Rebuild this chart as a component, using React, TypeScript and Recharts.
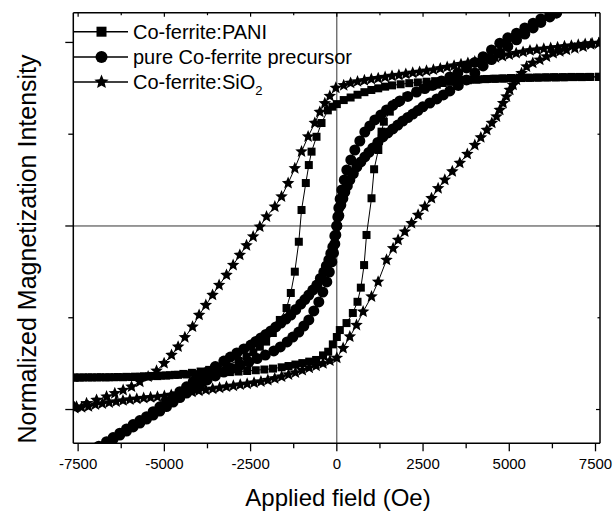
import React from 'react';
import { LineChart, Line, XAxis, YAxis, ReferenceLine } from 'recharts';

// ---------- axis ticks ----------
const xTickValues = [-7500, -6250, -5000, -3750, -2500, -1250, 0, 1250, 2500, 3750, 5000, 6250, 7500];
const yTickValues = [-1, -0.5, 0, 0.5, 1];
const xDomain: [number, number] = [-7640, 7630];
const yDomain: [number, number] = [-1.184, 1.162];

// ---------- legend / titles ----------
const seriesNames = ['Co-ferrite:PANI', 'pure Co-ferrite precursor', 'Co-ferrite:SiO'];
const xTitle = 'Applied field (Oe)';
const yTitle = 'Normalized Magnetization Intensity';

// ---------- data: [field (Oe), normalized magnetization] ----------
const paniDescending: [number, number][] = [
  [7600, 0.812], [7350, 0.812], [7100, 0.811], [6850, 0.811], [6600, 0.81], [6350, 0.809], [6100, 0.809],
  [5850, 0.808], [5600, 0.807], [5350, 0.806], [5100, 0.804], [4850, 0.803], [4600, 0.802], [4350, 0.801],
  [4100, 0.799], [3850, 0.797], [3600, 0.796], [3350, 0.793], [3100, 0.791], [2850, 0.789], [2600, 0.786],
  [2350, 0.782], [2100, 0.778], [1850, 0.772], [1600, 0.766], [1400, 0.759], [1200, 0.75], [1000, 0.741],
  [800, 0.729], [600, 0.715], [400, 0.7], [200, 0.686], [0, 0.664], [-130, 0.65], [-261, 0.63],
  [-444, 0.561], [-589, 0.486], [-733, 0.405], [-812, 0.332], [-899, 0.234], [-1023, 0.087], [-1102, -0.086],
  [-1218, -0.249], [-1334, -0.365], [-1458, -0.447], [-1652, -0.512], [-1855, -0.583], [-2050, -0.63],
  [-2232, -0.658], [-2420, -0.688], [-2618, -0.712], [-2850, -0.735], [-3197, -0.757], [-3450, -0.772],
  [-3700, -0.784], [-3950, -0.793], [-4200, -0.8], [-4450, -0.806], [-4700, -0.811], [-4950, -0.815],
  [-5200, -0.818], [-5450, -0.82], [-5700, -0.822], [-5950, -0.823], [-6200, -0.824], [-6450, -0.824],
  [-6700, -0.825], [-6950, -0.825], [-7200, -0.825], [-7450, -0.826], [-7600, -0.826],
];
const paniAscending: [number, number][] = [
  [-7600, -0.826], [-7350, -0.825], [-7100, -0.825], [-6850, -0.824], [-6600, -0.824], [-6350, -0.823],
  [-6100, -0.822], [-5850, -0.821], [-5600, -0.819], [-5350, -0.817], [-5100, -0.815], [-4850, -0.813],
  [-4600, -0.811], [-4350, -0.809], [-4100, -0.807], [-3850, -0.805], [-3600, -0.802], [-3350, -0.799],
  [-3100, -0.796], [-2850, -0.793], [-2600, -0.79], [-2350, -0.786], [-2100, -0.782], [-1850, -0.777],
  [-1600, -0.77], [-1400, -0.763], [-1200, -0.755], [-1000, -0.747], [-800, -0.739], [-600, -0.73],
  [-400, -0.705], [-250, -0.685], [-116, -0.645], [0, -0.605], [87, -0.567], [281, -0.529], [464, -0.474],
  [600, -0.413], [696, -0.336], [791, -0.213], [861, -0.049], [1006, 0.151], [1081, 0.309], [1203, 0.414],
  [1296, 0.514], [1363, 0.568], [1536, 0.623], [1731, 0.67], [2021, 0.705], [2311, 0.732], [2500, 0.747],
  [2696, 0.759], [2900, 0.77], [3073, 0.779], [3300, 0.785], [3550, 0.79], [3800, 0.794], [4050, 0.797],
  [4300, 0.8], [4550, 0.802], [4800, 0.804], [5050, 0.806], [5300, 0.807], [5550, 0.808], [5800, 0.809],
  [6050, 0.81], [6300, 0.811], [6550, 0.811], [6800, 0.812], [7050, 0.812], [7300, 0.812], [7600, 0.813],
];

const pureDescending: [number, number][] = [
  [7600, 1.28], [7300, 1.25], [7000, 1.22], [6700, 1.19], [6369, 1.161], [6175, 1.15], [5914, 1.128],
  [5691, 1.105], [5450, 1.079], [5210, 1.05], [4957, 1.025], [4725, 0.996], [4485, 0.959], [4241, 0.922],
  [4001, 0.891], [3760, 0.861], [3508, 0.834], [3276, 0.812], [3035, 0.79], [2792, 0.768], [2551, 0.749],
  [2311, 0.73], [2058, 0.706], [1826, 0.681], [1623, 0.657], [1441, 0.632], [1276, 0.605], [1102, 0.578],
  [957, 0.545], [812, 0.512], [667, 0.463], [522, 0.414], [406, 0.36], [290, 0.305], [217, 0.251],
  [145, 0.196], [96, 0.147], [58, 0.098], [29, 0.049], [0, 0], [-58, -0.054], [-116, -0.114], [-174, -0.15],
  [-232, -0.185], [-304, -0.218], [-377, -0.251], [-478, -0.286], [-580, -0.322], [-696, -0.349],
  [-812, -0.376], [-928, -0.401], [-1044, -0.425], [-1189, -0.455], [-1334, -0.485], [-1478, -0.507],
  [-1623, -0.529], [-1768, -0.55], [-1913, -0.572], [-2058, -0.591], [-2203, -0.61], [-2348, -0.629],
  [-2493, -0.649], [-2696, -0.67], [-2899, -0.692], [-3088, -0.714], [-3276, -0.736], [-3522, -0.766],
  [-3760, -0.796], [-3972, -0.821], [-4165, -0.849], [-4357, -0.876], [-4551, -0.903], [-4746, -0.93],
  [-4937, -0.957], [-5131, -0.985], [-5325, -1.012], [-5517, -1.039], [-5711, -1.06], [-5905, -1.082],
  [-6097, -1.106], [-6291, -1.129], [-6485, -1.153], [-6676, -1.175], [-6900, -1.2], [-7200, -1.235],
  [-7600, -1.28],
];
const pureAscending: [number, number][] = [
  [-7600, -1.29], [-7200, -1.245], [-6900, -1.21], [-6676, -1.183], [-6485, -1.161], [-6291, -1.139],
  [-6097, -1.117], [-5905, -1.095], [-5711, -1.074], [-5517, -1.052], [-5325, -1.03], [-5131, -1.008],
  [-4937, -0.984], [-4746, -0.959], [-4551, -0.935], [-4357, -0.91], [-4175, -0.888], [-3972, -0.864],
  [-3760, -0.839], [-3522, -0.817], [-3276, -0.796], [-3044, -0.777], [-2792, -0.757], [-2551, -0.741],
  [-2311, -0.722], [-2073, -0.703], [-1826, -0.681], [-1638, -0.659], [-1441, -0.632], [-1276, -0.605],
  [-1102, -0.578], [-957, -0.545], [-812, -0.512], [-667, -0.463], [-522, -0.414], [-406, -0.36],
  [-290, -0.305], [-217, -0.251], [-145, -0.196], [-96, -0.147], [-58, -0.098], [-29, -0.049], [0, 0],
  [58, 0.057], [116, 0.114], [174, 0.15], [232, 0.185], [304, 0.218], [377, 0.251], [478, 0.286],
  [580, 0.322], [696, 0.349], [812, 0.376], [928, 0.401], [1044, 0.425], [1189, 0.455], [1334, 0.485],
  [1478, 0.507], [1623, 0.529], [1768, 0.55], [1913, 0.572], [2058, 0.591], [2203, 0.61], [2348, 0.629],
  [2493, 0.649], [2696, 0.67], [2899, 0.692], [3088, 0.714], [3276, 0.736], [3522, 0.766], [3760, 0.796],
  [4001, 0.834], [4241, 0.872], [4485, 0.907], [4725, 0.943], [4957, 0.978], [5210, 1.014], [5450, 1.046],
  [5691, 1.079], [5914, 1.109], [6175, 1.139], [6369, 1.161], [6700, 1.19], [7000, 1.22], [7300, 1.25],
  [7600, 1.28],
];

const silicaDescending: [number, number][] = [
  [7600, 0.997], [7400, 0.995], [7200, 0.991], [7000, 0.987], [6800, 0.982], [6600, 0.978], [6400, 0.973],
  [6200, 0.969], [6000, 0.965], [5800, 0.96], [5600, 0.956], [5400, 0.948], [5200, 0.941], [5000, 0.933],
  [4800, 0.925], [4600, 0.918], [4400, 0.911], [4200, 0.903], [4000, 0.895], [3800, 0.888], [3600, 0.881],
  [3400, 0.873], [3200, 0.866], [3000, 0.858], [2800, 0.851], [2600, 0.845], [2400, 0.839], [2200, 0.834],
  [2000, 0.828], [1800, 0.822], [1600, 0.817], [1400, 0.811], [1200, 0.805], [1000, 0.8], [800, 0.793],
  [600, 0.787], [400, 0.779], [200, 0.766], [-29, 0.752], [-203, 0.708], [-348, 0.668], [-493, 0.621],
  [-638, 0.561], [-832, 0.487], [-1023, 0.405], [-1218, 0.314], [-1412, 0.233], [-1603, 0.16],
  [-1797, 0.105], [-2038, 0.051], [-2232, -0.004], [-2426, -0.058], [-2618, -0.106], [-2812, -0.158],
  [-3006, -0.213], [-3198, -0.267], [-3412, -0.322], [-3603, -0.376], [-3798, -0.431], [-3992, -0.485],
  [-4183, -0.549], [-4406, -0.607], [-4601, -0.658], [-4792, -0.703], [-5007, -0.748], [-5227, -0.789],
  [-5471, -0.821], [-5711, -0.849], [-5952, -0.876], [-6195, -0.894], [-6436, -0.912], [-6676, -0.93],
  [-6966, -0.948], [-7256, -0.966], [-7546, -0.985], [-7600, -0.988],
];
const silicaAscending: [number, number][] = [
  [-7600, -0.992], [-7400, -0.988], [-7200, -0.983], [-7000, -0.973], [-6800, -0.968], [-6600, -0.962],
  [-6400, -0.957], [-6200, -0.951], [-6000, -0.946], [-5800, -0.942], [-5600, -0.938], [-5400, -0.934],
  [-5200, -0.931], [-5000, -0.927], [-4800, -0.921], [-4600, -0.915], [-4400, -0.909], [-4200, -0.904],
  [-4000, -0.898], [-3800, -0.893], [-3600, -0.887], [-3400, -0.882], [-3200, -0.876], [-3000, -0.871],
  [-2800, -0.865], [-2600, -0.86], [-2400, -0.854], [-2200, -0.848], [-2000, -0.84], [-1800, -0.831],
  [-1600, -0.821], [-1400, -0.81], [-1200, -0.799], [-1000, -0.786], [-800, -0.773], [-600, -0.762],
  [-400, -0.749], [-200, -0.734], [0, -0.719], [183, -0.666], [377, -0.603], [571, -0.54], [762, -0.467],
  [1006, -0.385], [1197, -0.304], [1441, -0.185], [1632, -0.122], [1777, -0.076], [1971, -0.031],
  [2166, 0.015], [2357, 0.06], [2551, 0.105], [2745, 0.151], [2937, 0.205], [3131, 0.251], [3348, 0.297],
  [3566, 0.343], [3783, 0.392], [4001, 0.441], [4175, 0.482], [4349, 0.523], [4494, 0.561], [4630, 0.596],
  [4725, 0.632], [4821, 0.669], [4920, 0.705], [5015, 0.741], [5111, 0.768], [5210, 0.796], [5355, 0.832],
  [5500, 0.868], [5682, 0.888], [5885, 0.905], [6079, 0.923], [6271, 0.941], [6465, 0.951], [6659, 0.959],
  [6900, 0.968], [7140, 0.977], [7363, 0.989], [7595, 0.995],
];

const toRows = (a: [number, number][], b: [number, number][]) => [...a, ...b].map(([x, y]) => ({ x, y }));
const paniData = toRows(paniDescending, paniAscending);
const pureData = toRows(pureDescending, pureAscending);
const silicaData = toRows(silicaDescending, silicaAscending);

const FONT = "Arial, 'Liberation Sans', Helvetica, sans-serif";

const starPath = (cx: number, cy: number, R: number, r: number) => {
  let d = '';
  for (let i = 0; i < 10; i++) {
    const a = (-90 + i * 36) * (Math.PI / 180);
    const rad = i % 2 === 0 ? R : r;
    d += (i === 0 ? 'M' : 'L') + (cx + rad * Math.cos(a)).toFixed(2) + ',' + (cy + rad * Math.sin(a)).toFixed(2);
  }
  return d + 'Z';
};

const SquareMark = (cx: number, cy: number, s: number, key?: string) => (
  <rect key={key} x={cx - s / 2} y={cy - s / 2} width={s} height={s} fill="#000" />
);
const CircleMark = (cx: number, cy: number, r: number, key?: string) => (
  <circle key={key} cx={cx} cy={cy} r={r} fill="#000" />
);
const StarMark = (cx: number, cy: number, R: number, key?: string) => (
  <path key={key} d={starPath(cx, cy, R, R * 0.45)} fill="#000" />
);

const squareDot = (p: any) =>
  p.cx == null || p.cy == null ? <g key={`sq${p.index}`} /> : SquareMark(p.cx, p.cy, 8, `sq${p.index}`);
const circleDot = (p: any) =>
  p.cx == null || p.cy == null ? <g key={`ci${p.index}`} /> : CircleMark(p.cx, p.cy, 5.5, `ci${p.index}`);
const starDot = (p: any) =>
  p.cx == null || p.cy == null ? <g key={`st${p.index}`} /> : StarMark(p.cx, p.cy, 6.6, `st${p.index}`);

const isMajorX = (v: number) => v % 2500 === 0;
const isMajorY = (v: number) => Math.abs(v) % 1 === 0;

const BottomTick = (p: any) => {
  const v = p.payload.value;
  const major = isMajorX(v);
  return (
    <g>
      <line x1={p.x} x2={p.x} y1={p.y} y2={p.y + (major ? 8 : 5)} stroke="#000" strokeWidth={1.3} />
      {major && (
        <text x={p.x} y={p.y + 25.4} textAnchor="middle" fontSize={15} fontFamily={FONT} fill="#000">
          {v}
        </text>
      )}
    </g>
  );
};
const TopTick = (p: any) => {
  const major = isMajorX(p.payload.value);
  return <line x1={p.x} x2={p.x} y1={p.y} y2={p.y + (major ? 4 : 2.5)} stroke="#000" strokeWidth={1.2} />;
};
const LeftTick = (p: any) => {
  const major = isMajorY(p.payload.value);
  return <line x1={p.x} x2={p.x - (major ? 8 : 5)} y1={p.y} y2={p.y} stroke="#000" strokeWidth={1.3} />;
};
const RightTick = (p: any) => {
  const major = isMajorY(p.payload.value);
  return <line x1={p.x} x2={p.x - (major ? 4 : 2.5)} y1={p.y} y2={p.y} stroke="#000" strokeWidth={1.2} />;
};

const axisLine = { stroke: '#000', strokeWidth: 1.5 };

const Overlay = () => {
  const rows = [31.7, 57, 82];
  const markers = [
    SquareMark(101.5, rows[0], 10, 'l0'),
    CircleMark(101.5, rows[1], 6, 'l1'),
    StarMark(101.5, rows[2], 7.5, 'l2'),
  ];
  return (
    <svg
      width={615}
      height={512}
      style={{ position: 'absolute', left: 0, top: 0, pointerEvents: 'none' }}
      fontFamily={FONT}
    >
      {rows.map((ry, i) => (
        <g key={i}>
          <line x1={73.3} x2={128} y1={ry} y2={ry} stroke="#000" strokeWidth={1.5} />
          {markers[i]}
          <text x={133} y={ry + 7} fontSize={20} fill="#000">
            {seriesNames[i]}
            {i === 2 && (
              <tspan fontSize={13} dy={6}>
                2
              </tspan>
            )}
          </text>
        </g>
      ))}
      <text x={338} y={506} textAnchor="middle" fontSize={24} fill="#000">
        {xTitle}
      </text>
      <text x={36} y={249} textAnchor="middle" fontSize={25} fill="#000" transform="rotate(-90 36 249)">
        {yTitle}
      </text>
    </svg>
  );
};

export default function App() {
  return (
    <div style={{ position: 'absolute', left: 0, top: 0, width: 615, height: 512, background: '#fff' }}>
      <LineChart width={615} height={512} margin={{ top: 11.7, left: 72.3, right: 14, bottom: 67.7 }}>
        <XAxis
          xAxisId="b"
          type="number"
          dataKey="x"
          domain={xDomain}
          allowDataOverflow
          ticks={xTickValues}
          interval={0}
          tickSize={0}
          tickMargin={0}
          tickLine={false}
          tick={BottomTick}
          height={1}
          axisLine={axisLine}
        />
        <XAxis
          xAxisId="t"
          orientation="top"
          type="number"
          dataKey="x"
          domain={xDomain}
          allowDataOverflow
          ticks={xTickValues}
          interval={0}
          tickSize={0}
          tickMargin={0}
          tickLine={false}
          tick={TopTick}
          height={1}
          axisLine={axisLine}
        />
        <YAxis
          yAxisId="l"
          type="number"
          domain={yDomain}
          allowDataOverflow
          ticks={yTickValues}
          interval={0}
          tickSize={0}
          tickMargin={0}
          tickLine={false}
          tick={LeftTick}
          width={1}
          axisLine={axisLine}
        />
        <YAxis
          yAxisId="r"
          orientation="right"
          type="number"
          domain={yDomain}
          allowDataOverflow
          ticks={yTickValues}
          interval={0}
          tickSize={0}
          tickMargin={0}
          tickLine={false}
          tick={RightTick}
          width={1}
          axisLine={axisLine}
        />
        <ReferenceLine xAxisId="b" yAxisId="l" x={0} stroke="#333" strokeWidth={1} />
        <ReferenceLine xAxisId="b" yAxisId="l" y={0} stroke="#333" strokeWidth={1} />
        <Line
          xAxisId="b"
          yAxisId="l"
          data={paniData}
          dataKey="y"
          name={seriesNames[0]}
          type="linear"
          stroke="#000"
          strokeWidth={1}
          dot={squareDot}
          activeDot={false}
          isAnimationActive={false}
        />
        <Line
          xAxisId="b"
          yAxisId="l"
          data={pureData}
          dataKey="y"
          name={seriesNames[1]}
          type="linear"
          stroke="#000"
          strokeWidth={1}
          dot={circleDot}
          activeDot={false}
          isAnimationActive={false}
        />
        <Line
          xAxisId="b"
          yAxisId="l"
          data={silicaData}
          dataKey="y"
          name={seriesNames[2] + '2'}
          type="linear"
          stroke="#000"
          strokeWidth={1}
          dot={starDot}
          activeDot={false}
          isAnimationActive={false}
        />
      </LineChart>
      <Overlay />
    </div>
  );
}
